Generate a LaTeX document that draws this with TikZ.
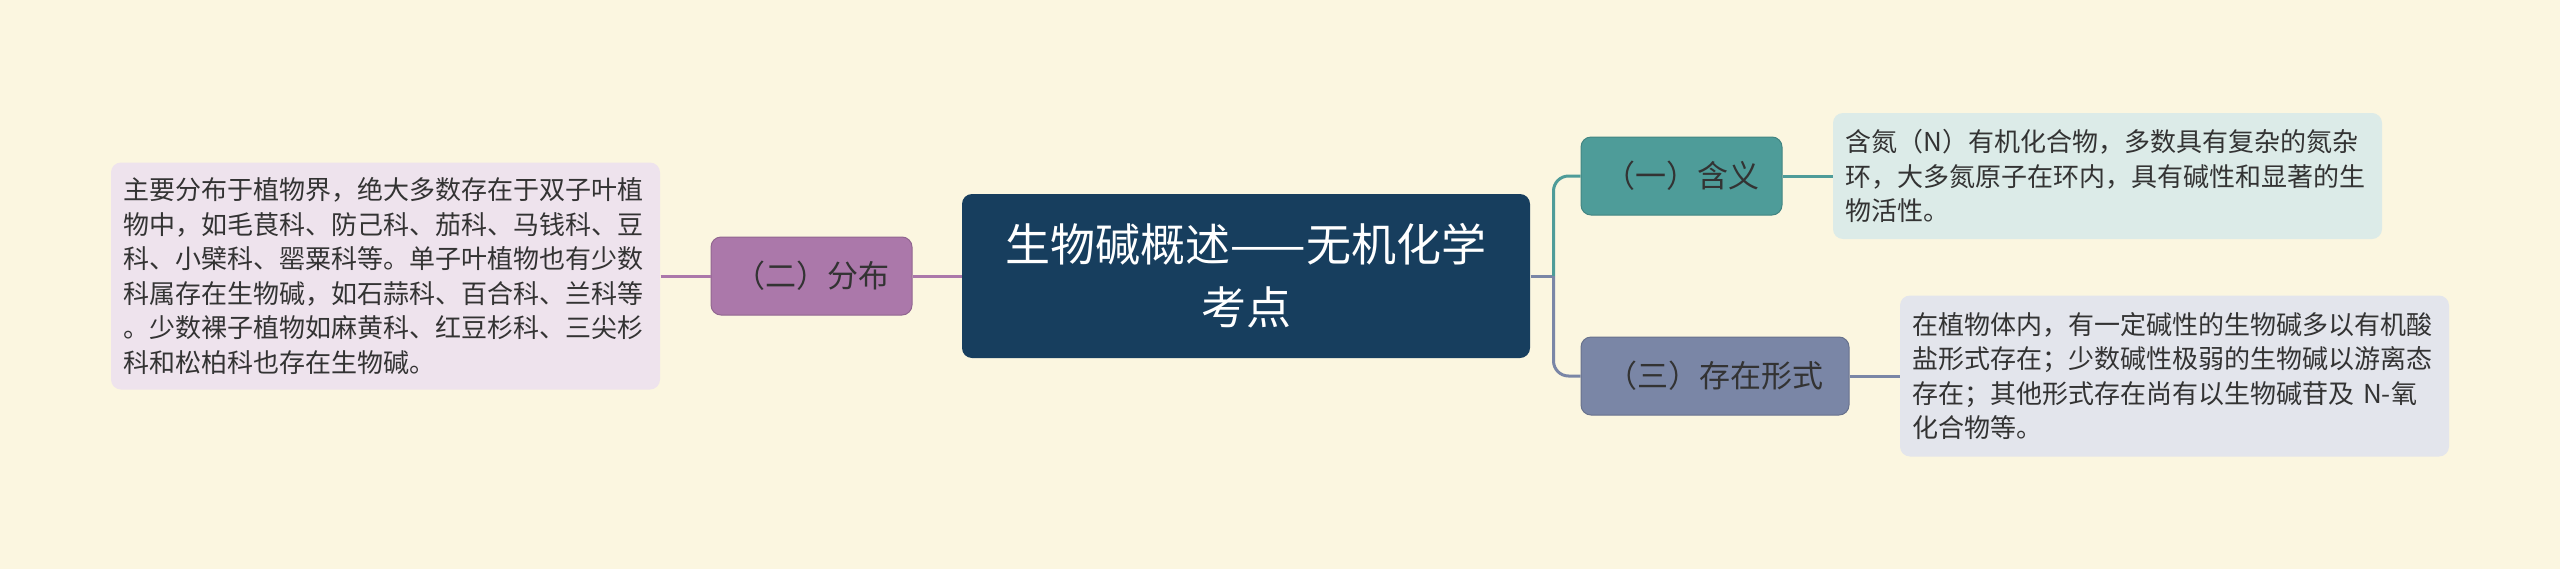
\documentclass[tikz,border=0pt]{standalone}
\usepackage{fontspec}
\newfontfamily\cjk{Noto Sans CJK SC}
\usetikzlibrary{positioning}
\definecolor{paper}{HTML}{FBF6E0}
\definecolor{navy}{HTML}{173E5E}
\definecolor{ink}{HTML}{333333}
\definecolor{tealc}{HTML}{4E9C99}
\definecolor{tealpale}{HTML}{DCEBE8}
\definecolor{slate}{HTML}{7A86A6}
\definecolor{slatepale}{HTML}{E3E5EC}
\definecolor{plum}{HTML}{AB78AA}
\definecolor{plumpale}{HTML}{EEE3ED}
\tikzset{
  node distance = 20pt,
  topic/.style = {rectangle,
                  rounded corners = 4pt,
                  fill = navy,
                  text = white,
                  align = center,
                  text width = 200pt,
                  minimum width = 227.2pt,
                  minimum height = 65.6pt,
                  inner sep = 0pt,
                  font = \cjk\fontsize{18}{25.2}\selectfont},
  branch/.style = {rectangle,
                   rounded corners = 4pt,
                   text = ink,
                   minimum height = 31.2pt,
                   inner sep = 0pt,
                   font = \cjk\fontsize{12.4}{15}\selectfont},
  detail/.style = {rectangle,
                   rounded corners = 4pt,
                   text = ink,
                   align = left,
                   text width = 209.6pt,
                   inner xsep = 5pt,
                   inner ysep = 0pt,
                   font = \cjk\fontsize{10.4}{13.8}\selectfont},
  link/.style = {line width = 1.2pt}
}

\begin{document}
\begin{tikzpicture}

\fill[paper] (0,0) rectangle (1024pt,-227.6pt);
\useasboundingbox (0,0) rectangle (1024pt,-227.6pt);

\node[topic](topic) at (498.4pt,-110.4pt){生物碱概述——无机化学\\考点};

% left side
\node[branch, fill = plum, draw = plum!85!black, line width = 0.4pt,
      minimum width = 80.4pt](spread)[left = 19.6pt of topic]{（二）分布}
  edge[link, plum](topic);

\node[detail, fill = plumpale, minimum height = 90.8pt](spread-text)[left = of spread]{%
主要分布于植物界，绝大多数存在于双子叶植\\
物中，如毛茛科、防己科、茄科、马钱科、豆\\
科、小檗科、罂粟科等。单子叶植物也有少数\\
科属存在生物碱，如石蒜科、百合科、兰科等\\
。少数裸子植物如麻黄科、红豆杉科、三尖杉\\
科和松柏科也存在生物碱。}
  edge[link, plum](spread);

% right side
\node[branch, fill = tealc, draw = tealc!85!black, line width = 0.4pt,
      minimum width = 80.4pt](meaning)[right = of topic, yshift = 40pt]{（一）含义};

\node[branch, fill = slate, draw = slate!85!black, line width = 0.4pt,
      minimum width = 107.2pt](form)[right = of topic, yshift = -40pt]{（三）存在形式};

\node[detail, fill = tealpale, minimum height = 50.4pt](meaning-text)[right = of meaning]{%
含氮（N）有机化合物，多数具有复杂的氮杂\\
环，大多氮原子在环内，具有碱性和显著的生\\
物活性。}
  edge[link, tealc](meaning);

\node[detail, fill = slatepale, minimum height = 64.4pt](form-text)[right = of form]{%
在植物体内，有一定碱性的生物碱多以有机酸\\
盐形式存在；少数碱性极弱的生物碱以游离态\\
存在；其他形式存在尚有以生物碱苷及 N-氧\\
化合物等。}
  edge[link, slate](form);

\draw[link, slate] (topic.east) -- ++(9.2pt,0) coordinate (fork);
\draw[link, tealc, rounded corners = 6pt] (fork) |- (meaning.west);
\draw[link, slate, rounded corners = 6pt] (fork) |- (form.west);

\end{tikzpicture}
\end{document}
